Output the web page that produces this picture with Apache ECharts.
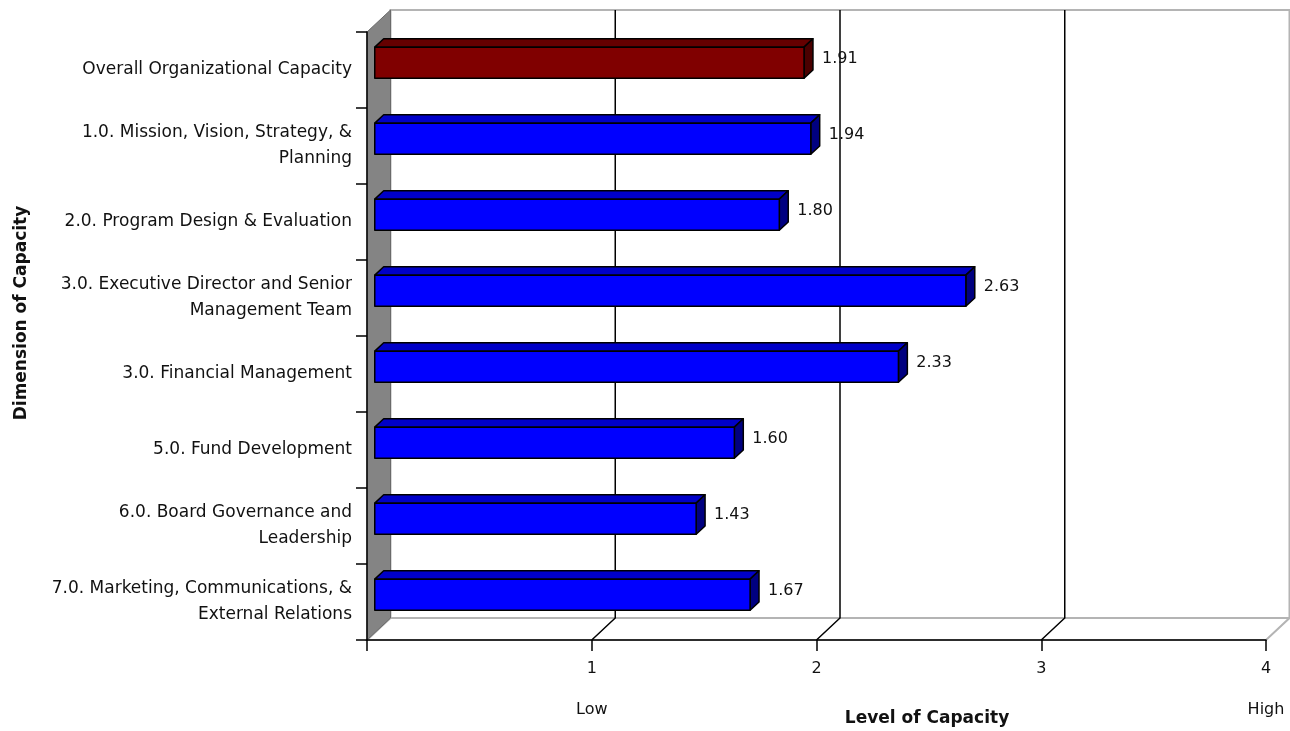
<!DOCTYPE html>
<html>
<head>
<meta charset="utf-8">
<script src="https://cdn.jsdelivr.net/npm/echarts@6/dist/echarts.min.js"></script>
<style>
  html, body { margin: 0; padding: 0; background: #fff; }
  #chart { width: 1290px; height: 731px; }
</style>
</head>
<body>
<div id="chart"></div>
<script>
// data
const categories = [
  'Overall Organizational Capacity',
  '1.0. Mission, Vision, Strategy, &\nPlanning',
  '2.0. Program Design & Evaluation',
  '3.0. Executive Director and Senior\nManagement Team',
  '3.0. Financial Management',
  '5.0. Fund Development',
  '6.0. Board Governance and\nLeadership',
  '7.0. Marketing, Communications, &\nExternal Relations'
];
const values = [1.91, 1.94, 1.80, 2.63, 2.33, 1.60, 1.43, 1.67];
const xTicks = [0, 1, 2, 3, 4];
const xTickNotes = { 1: 'Low', 4: 'High' };

// fake 3d depth of the plot box (px) and where the bars sit inside it
const DEPTH = [23.5, -22];
const BAR_FRONT = 0.33;
const BAR_BACK = 0.71;
const BAR_SIZE = 0.41;

const FONT = 'DejaVu Sans';

const chart = echarts.init(document.getElementById('chart'));

function renderWalls(params, api) {
  const cs = params.coordSys;
  const x0 = cs.x, y0 = cs.y, x1 = cs.x + cs.width, y1 = cs.y + cs.height;
  const dx = DEPTH[0], dy = DEPTH[1];
  const children = [
    { // back wall
      type: 'rect',
      shape: { x: x0 + dx, y: y0 + dy, width: x1 - x0, height: y1 - y0 },
      style: { fill: '#fff', stroke: '#b4b4b4', lineWidth: 2 }
    },
    { // floor
      type: 'polygon',
      shape: { points: [[x0, y1], [x0 + dx, y1 + dy], [x1 + dx, y1 + dy], [x1, y1]] },
      style: { fill: '#fff', stroke: '#b4b4b4', lineWidth: 2 }
    },
    { // left wall
      type: 'polygon',
      shape: { points: [[x0, y0], [x0 + dx, y0 + dy], [x0 + dx, y1 + dy], [x0, y1]] },
      style: { fill: '#848484', stroke: '#6a6a6a', lineWidth: 1 }
    }
  ];
  xTicks.slice(1, -1).forEach(function (t) {
    const x = api.coord([t, 0])[0];
    children.push({
      type: 'polyline',
      shape: { points: [[x, y1], [x + dx, y1 + dy], [x + dx, y0 + dy]] },
      style: { fill: null, stroke: '#000', lineWidth: 1.5 }
    });
  });
  return { type: 'group', children: children };
}

function renderBar(params, api) {
  const i = api.value(0);
  const v = api.value(1);
  const start = api.coord([0, i]);
  const end = api.coord([v, i]);
  const band = api.size([0, 1])[1];
  const h = band * BAR_SIZE;
  const fx = DEPTH[0] * BAR_FRONT, fy = DEPTH[1] * BAR_FRONT;
  const ddx = DEPTH[0] * (BAR_BACK - BAR_FRONT), ddy = DEPTH[1] * (BAR_BACK - BAR_FRONT);
  const xa = start[0] + fx, xb = end[0] + fx;
  const cy = start[1] + fy;
  const yt = cy - h / 2, yb = cy + h / 2;
  const hot = i === 0;
  const front = hot ? '#800000' : '#0000ff';
  const top = hot ? '#650000' : '#0000c8';
  const side = hot ? '#4a0000' : '#000080';
  const line = { stroke: '#000', lineWidth: 1.5, lineJoin: 'round' };
  return {
    type: 'group',
    children: [
      {
        type: 'polygon',
        shape: { points: [[xa, yt], [xb, yt], [xb + ddx, yt + ddy], [xa + ddx, yt + ddy]] },
        style: Object.assign({ fill: top }, line)
      },
      {
        type: 'polygon',
        shape: { points: [[xb, yt], [xb + ddx, yt + ddy], [xb + ddx, yb + ddy], [xb, yb]] },
        style: Object.assign({ fill: side }, line)
      },
      {
        type: 'rect',
        shape: { x: xa, y: yt, width: xb - xa, height: h },
        style: Object.assign({ fill: front }, line)
      },
      {
        type: 'text',
        style: {
          x: xb + ddx + 9, y: cy + ddy / 2,
          text: v.toFixed(2),
          fill: '#111', font: '16px "' + FONT + '"',
          align: 'left', verticalAlign: 'middle'
        }
      }
    ]
  };
}

chart.setOption({
  animation: false,
  backgroundColor: '#fff',
  grid: { left: 367, right: 24, top: 32, bottom: 91, containLabel: false },
  xAxis: {
    type: 'value',
    z: 10,
    min: 0, max: 4, interval: 1,
    axisLine: { show: true, lineStyle: { color: '#000', width: 1.5 } },
    axisTick: { show: true, inside: false, length: 11, lineStyle: { color: '#000', width: 1.5 } },
    splitLine: { show: false },
    axisLabel: {
      margin: 19,
      formatter: function (v) {
        if (v === 0) return '';
        return '{n|' + v + '}' + (xTickNotes[v] ? '\n{s|' + xTickNotes[v] + '}' : '');
      },
      rich: {
        n: { fontFamily: FONT, fontSize: 16, color: '#111', lineHeight: 20 },
        s: { fontFamily: FONT, fontSize: 16, color: '#111', lineHeight: 62 }
      }
    }
  },
  yAxis: {
    type: 'category',
    z: 10,
    inverse: true,
    data: categories,
    axisLine: { show: true, lineStyle: { color: '#000', width: 1.5 } },
    axisTick: { show: true, length: 11, lineStyle: { color: '#000', width: 1.5 } },
    axisLabel: {
      margin: 15,
      fontFamily: FONT, fontSize: 17, color: '#111', lineHeight: 26, align: 'right'
    }
  },
  graphic: [
    {
      type: 'text', x: 22, y: 313, rotation: Math.PI / 2,
      style: { text: 'Dimension of Capacity', font: 'bold 17px "' + FONT + '"', fill: '#111', align: 'center', verticalAlign: 'middle' }
    },
    {
      type: 'text', x: 927, y: 719,
      style: { text: 'Level of Capacity', font: 'bold 17px "' + FONT + '"', fill: '#111', align: 'center', verticalAlign: 'middle' }
    }
  ],
  series: [
    {
      type: 'custom',
      z: 1,
      silent: true,
      data: [[0, 0]],
      renderItem: renderWalls
    },
    {
      type: 'custom',
      z: 3,
      data: values.map(function (v, i) { return [i, v]; }),
      encode: { x: 1, y: 0 },
      renderItem: renderBar
    }
  ]
});
</script>
</body>
</html>
